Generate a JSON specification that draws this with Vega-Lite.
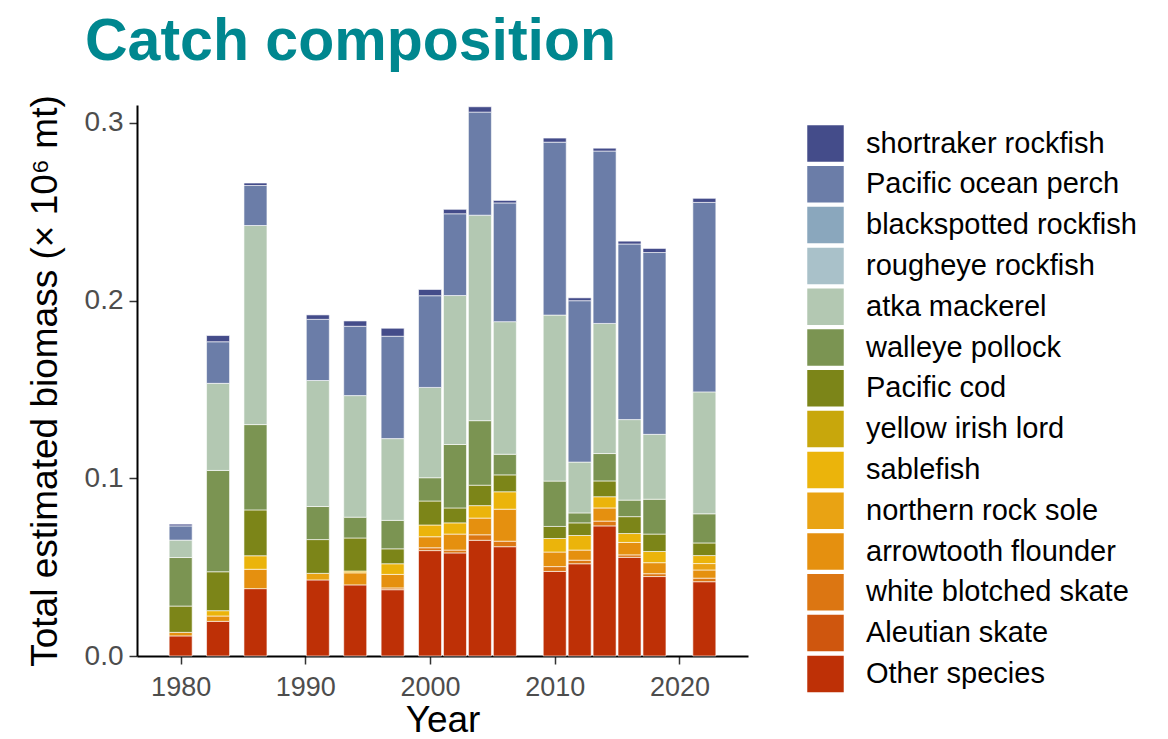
{
  "$schema": "https://vega.github.io/schema/vega-lite/v6.json",
  "width": 611,
  "height": 551,
  "autosize": {"type": "none"},
  "padding": {"left": 137, "top": 105, "right": 420, "bottom": 83},
  "background": "white",
  "title": {
    "text": "Catch composition",
    "anchor": "start",
    "frame": "group",
    "font": "Liberation Sans",
    "fontWeight": "bold",
    "fontSize": 59,
    "color": "#00878F",
    "dx": -52,
    "offset": 23
  },
  "config": {
    "view": {"stroke": null},
    "font": "Liberation Sans"
  },
  "data": {
    "values": [
      {"year": 1980, "species": "Other species", "biomass": 0.0113},
      {"year": 1980, "species": "arrowtooth flounder", "biomass": 0.002},
      {"year": 1980, "species": "Pacific cod", "biomass": 0.0148},
      {"year": 1980, "species": "walleye pollock", "biomass": 0.0273},
      {"year": 1980, "species": "atka mackerel", "biomass": 0.0098},
      {"year": 1980, "species": "Pacific ocean perch", "biomass": 0.008},
      {"year": 1980, "species": "shortraker rockfish", "biomass": 0.001},

      {"year": 1983, "species": "Other species", "biomass": 0.0195},
      {"year": 1983, "species": "arrowtooth flounder", "biomass": 0.003},
      {"year": 1983, "species": "sablefish", "biomass": 0.003},
      {"year": 1983, "species": "Pacific cod", "biomass": 0.0219},
      {"year": 1983, "species": "walleye pollock", "biomass": 0.057},
      {"year": 1983, "species": "atka mackerel", "biomass": 0.049},
      {"year": 1983, "species": "Pacific ocean perch", "biomass": 0.0234},
      {"year": 1983, "species": "shortraker rockfish", "biomass": 0.0035},

      {"year": 1986, "species": "Other species", "biomass": 0.0379},
      {"year": 1986, "species": "arrowtooth flounder", "biomass": 0.0109},
      {"year": 1986, "species": "sablefish", "biomass": 0.0076},
      {"year": 1986, "species": "Pacific cod", "biomass": 0.0258},
      {"year": 1986, "species": "walleye pollock", "biomass": 0.048},
      {"year": 1986, "species": "atka mackerel", "biomass": 0.112},
      {"year": 1986, "species": "Pacific ocean perch", "biomass": 0.0225},
      {"year": 1986, "species": "shortraker rockfish", "biomass": 0.0014},

      {"year": 1991, "species": "Other species", "biomass": 0.0428},
      {"year": 1991, "species": "northern rock sole", "biomass": 0.0037},
      {"year": 1991, "species": "Pacific cod", "biomass": 0.019},
      {"year": 1991, "species": "walleye pollock", "biomass": 0.0186},
      {"year": 1991, "species": "atka mackerel", "biomass": 0.0709},
      {"year": 1991, "species": "Pacific ocean perch", "biomass": 0.0344},
      {"year": 1991, "species": "shortraker rockfish", "biomass": 0.0025},

      {"year": 1994, "species": "Other species", "biomass": 0.040},
      {"year": 1994, "species": "arrowtooth flounder", "biomass": 0.0068},
      {"year": 1994, "species": "sablefish", "biomass": 0.001},
      {"year": 1994, "species": "Pacific cod", "biomass": 0.0186},
      {"year": 1994, "species": "walleye pollock", "biomass": 0.0117},
      {"year": 1994, "species": "atka mackerel", "biomass": 0.0684},
      {"year": 1994, "species": "Pacific ocean perch", "biomass": 0.039},
      {"year": 1994, "species": "shortraker rockfish", "biomass": 0.003},

      {"year": 1997, "species": "Other species", "biomass": 0.0373},
      {"year": 1997, "species": "white blotched skate", "biomass": 0.001},
      {"year": 1997, "species": "arrowtooth flounder", "biomass": 0.0076},
      {"year": 1997, "species": "sablefish", "biomass": 0.006},
      {"year": 1997, "species": "Pacific cod", "biomass": 0.0084},
      {"year": 1997, "species": "walleye pollock", "biomass": 0.016},
      {"year": 1997, "species": "atka mackerel", "biomass": 0.046},
      {"year": 1997, "species": "Pacific ocean perch", "biomass": 0.0576},
      {"year": 1997, "species": "shortraker rockfish", "biomass": 0.0045},

      {"year": 2000, "species": "Other species", "biomass": 0.0593},
      {"year": 2000, "species": "white blotched skate", "biomass": 0.0016},
      {"year": 2000, "species": "arrowtooth flounder", "biomass": 0.0062},
      {"year": 2000, "species": "sablefish", "biomass": 0.0066},
      {"year": 2000, "species": "Pacific cod", "biomass": 0.0135},
      {"year": 2000, "species": "walleye pollock", "biomass": 0.0131},
      {"year": 2000, "species": "atka mackerel", "biomass": 0.0508},
      {"year": 2000, "species": "Pacific ocean perch", "biomass": 0.0516},
      {"year": 2000, "species": "shortraker rockfish", "biomass": 0.0035},

      {"year": 2002, "species": "Other species", "biomass": 0.058},
      {"year": 2002, "species": "white blotched skate", "biomass": 0.0016},
      {"year": 2002, "species": "arrowtooth flounder", "biomass": 0.009},
      {"year": 2002, "species": "sablefish", "biomass": 0.0063},
      {"year": 2002, "species": "Pacific cod", "biomass": 0.0084},
      {"year": 2002, "species": "walleye pollock", "biomass": 0.0357},
      {"year": 2002, "species": "atka mackerel", "biomass": 0.0838},
      {"year": 2002, "species": "Pacific ocean perch", "biomass": 0.046},
      {"year": 2002, "species": "shortraker rockfish", "biomass": 0.0025},

      {"year": 2004, "species": "Other species", "biomass": 0.0651},
      {"year": 2004, "species": "white blotched skate", "biomass": 0.0031},
      {"year": 2004, "species": "arrowtooth flounder", "biomass": 0.0094},
      {"year": 2004, "species": "sablefish", "biomass": 0.007},
      {"year": 2004, "species": "Pacific cod", "biomass": 0.0115},
      {"year": 2004, "species": "walleye pollock", "biomass": 0.0363},
      {"year": 2004, "species": "atka mackerel", "biomass": 0.1156},
      {"year": 2004, "species": "Pacific ocean perch", "biomass": 0.058},
      {"year": 2004, "species": "shortraker rockfish", "biomass": 0.003},

      {"year": 2006, "species": "Other species", "biomass": 0.0615},
      {"year": 2006, "species": "white blotched skate", "biomass": 0.0031},
      {"year": 2006, "species": "arrowtooth flounder", "biomass": 0.018},
      {"year": 2006, "species": "sablefish", "biomass": 0.0098},
      {"year": 2006, "species": "Pacific cod", "biomass": 0.0095},
      {"year": 2006, "species": "walleye pollock", "biomass": 0.0116},
      {"year": 2006, "species": "atka mackerel", "biomass": 0.0746},
      {"year": 2006, "species": "Pacific ocean perch", "biomass": 0.0668},
      {"year": 2006, "species": "shortraker rockfish", "biomass": 0.0014},

      {"year": 2010, "species": "Other species", "biomass": 0.0476},
      {"year": 2010, "species": "white blotched skate", "biomass": 0.0027},
      {"year": 2010, "species": "arrowtooth flounder", "biomass": 0.0082},
      {"year": 2010, "species": "sablefish", "biomass": 0.0076},
      {"year": 2010, "species": "Pacific cod", "biomass": 0.0068},
      {"year": 2010, "species": "walleye pollock", "biomass": 0.0255},
      {"year": 2010, "species": "atka mackerel", "biomass": 0.0934},
      {"year": 2010, "species": "Pacific ocean perch", "biomass": 0.0973},
      {"year": 2010, "species": "shortraker rockfish", "biomass": 0.0023},

      {"year": 2012, "species": "Other species", "biomass": 0.0519},
      {"year": 2012, "species": "white blotched skate", "biomass": 0.002},
      {"year": 2012, "species": "arrowtooth flounder", "biomass": 0.0057},
      {"year": 2012, "species": "sablefish", "biomass": 0.0082},
      {"year": 2012, "species": "Pacific cod", "biomass": 0.0071},
      {"year": 2012, "species": "walleye pollock", "biomass": 0.0056},
      {"year": 2012, "species": "atka mackerel", "biomass": 0.0286},
      {"year": 2012, "species": "Pacific ocean perch", "biomass": 0.0908},
      {"year": 2012, "species": "shortraker rockfish", "biomass": 0.0016},

      {"year": 2014, "species": "Other species", "biomass": 0.0732},
      {"year": 2014, "species": "white blotched skate", "biomass": 0.0027},
      {"year": 2014, "species": "arrowtooth flounder", "biomass": 0.0074},
      {"year": 2014, "species": "sablefish", "biomass": 0.0063},
      {"year": 2014, "species": "Pacific cod", "biomass": 0.0089},
      {"year": 2014, "species": "walleye pollock", "biomass": 0.0154},
      {"year": 2014, "species": "atka mackerel", "biomass": 0.0732},
      {"year": 2014, "species": "Pacific ocean perch", "biomass": 0.097},
      {"year": 2014, "species": "shortraker rockfish", "biomass": 0.0016},

      {"year": 2016, "species": "Other species", "biomass": 0.0555},
      {"year": 2016, "species": "white blotched skate", "biomass": 0.0014},
      {"year": 2016, "species": "arrowtooth flounder", "biomass": 0.007},
      {"year": 2016, "species": "sablefish", "biomass": 0.005},
      {"year": 2016, "species": "Pacific cod", "biomass": 0.0095},
      {"year": 2016, "species": "walleye pollock", "biomass": 0.0093},
      {"year": 2016, "species": "atka mackerel", "biomass": 0.0453},
      {"year": 2016, "species": "Pacific ocean perch", "biomass": 0.0988},
      {"year": 2016, "species": "shortraker rockfish", "biomass": 0.0016},

      {"year": 2018, "species": "Other species", "biomass": 0.0447},
      {"year": 2018, "species": "white blotched skate", "biomass": 0.0016},
      {"year": 2018, "species": "arrowtooth flounder", "biomass": 0.0062},
      {"year": 2018, "species": "sablefish", "biomass": 0.0063},
      {"year": 2018, "species": "Pacific cod", "biomass": 0.0098},
      {"year": 2018, "species": "walleye pollock", "biomass": 0.0196},
      {"year": 2018, "species": "atka mackerel", "biomass": 0.0365},
      {"year": 2018, "species": "Pacific ocean perch", "biomass": 0.1023},
      {"year": 2018, "species": "shortraker rockfish", "biomass": 0.0023},

      {"year": 2022, "species": "Other species", "biomass": 0.0418},
      {"year": 2022, "species": "white blotched skate", "biomass": 0.002},
      {"year": 2022, "species": "arrowtooth flounder", "biomass": 0.0046},
      {"year": 2022, "species": "northern rock sole", "biomass": 0.0036},
      {"year": 2022, "species": "sablefish", "biomass": 0.0045},
      {"year": 2022, "species": "Pacific cod", "biomass": 0.0071},
      {"year": 2022, "species": "walleye pollock", "biomass": 0.0164},
      {"year": 2022, "species": "atka mackerel", "biomass": 0.0686},
      {"year": 2022, "species": "Pacific ocean perch", "biomass": 0.1066},
      {"year": 2022, "species": "shortraker rockfish", "biomass": 0.0023}
    ]
  },
  "transform": [
    {"calculate": "indexof(['Other species','Aleutian skate','white blotched skate','arrowtooth flounder','northern rock sole','sablefish','yellow irish lord','Pacific cod','walleye pollock','atka mackerel','rougheye rockfish','blackspotted rockfish','Pacific ocean perch','shortraker rockfish'], datum.species)", "as": "stackorder"}
  ],
  "mark": {"type": "bar", "size": 23, "stroke": "white", "strokeWidth": 0.6},
  "encoding": {
    "x": {
      "field": "year",
      "type": "quantitative",
      "scale": {"domain": [1976.9, 2025.1], "nice": false, "zero": false},
      "axis": {
        "title": "Year",
        "titleFontSize": 37,
        "titleFontWeight": "normal",
        "titleColor": "black",
        "titlePadding": 2,
        "values": [1980, 1990, 2000, 2010, 2020],
        "format": "d",
        "labelFontSize": 27,
        "labelColor": "#4D4D4D",
        "labelPadding": 10,
        "domainColor": "black",
        "domainWidth": 2,
        "tickColor": "#333333",
        "tickWidth": 1.5,
        "tickSize": 8,
        "grid": false
      }
    },
    "y": {
      "field": "biomass",
      "type": "quantitative",
      "stack": "zero",
      "scale": {"domain": [0, 0.31], "nice": false},
      "axis": {
        "title": "Total estimated biomass (× 10⁶ mt)",
        "titleFontSize": 37,
        "titleFontWeight": "normal",
        "titleColor": "black",
        "titlePadding": 20,
        "values": [0, 0.1, 0.2, 0.3],
        "format": ".1f",
        "labelFontSize": 28,
        "labelColor": "#4D4D4D",
        "labelPadding": 6,
        "domainColor": "black",
        "domainWidth": 2,
        "tickColor": "#333333",
        "tickWidth": 1.5,
        "tickSize": 8,
        "grid": false
      }
    },
    "color": {
      "field": "species",
      "type": "nominal",
      "scale": {
        "domain": ["shortraker rockfish", "Pacific ocean perch", "blackspotted rockfish", "rougheye rockfish", "atka mackerel", "walleye pollock", "Pacific cod", "yellow irish lord", "sablefish", "northern rock sole", "arrowtooth flounder", "white blotched skate", "Aleutian skate", "Other species"],
        "range": ["#444C8A", "#6B7DA8", "#8AA7BD", "#A9C1C9", "#B3C8B2", "#7B9452", "#7C8518", "#C8A70C", "#EBB40B", "#E9A313", "#E5900F", "#DC7612", "#CF560E", "#BE3006"]
      },
      "legend": {
        "title": null,
        "orient": "none",
        "legendX": 670,
        "legendY": 20,
        "padding": 0,
        "symbolType": "square",
        "symbolSize": 1330,
        "symbolStrokeWidth": 0,
        "symbolOpacity": 1,
        "labelFontSize": 29,
        "labelColor": "black",
        "labelOffset": 22,
        "rowPadding": 3.8,
        "labelLimit": 400
      }
    },
    "order": {"field": "stackorder", "type": "quantitative", "sort": "ascending"}
  }
}
